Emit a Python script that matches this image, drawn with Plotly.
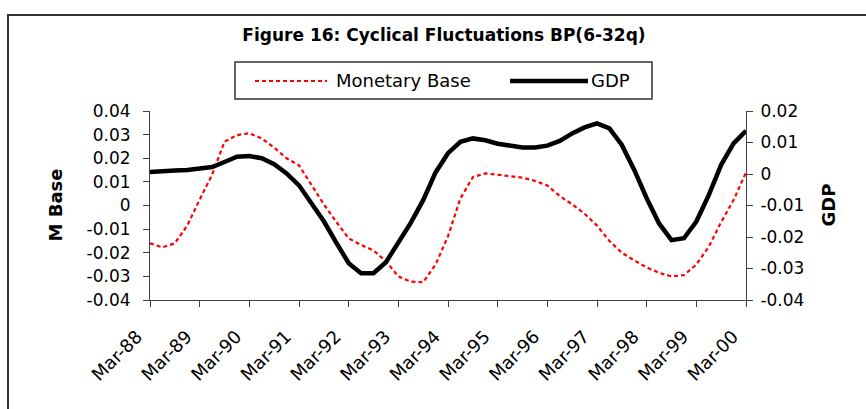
import plotly.graph_objects as go

# quarterly periods Mar-88 .. Mar-00
quarters = []
for yy in range(88, 101):
    for m in ["Mar", "Jun", "Sep", "Dec"]:
        quarters.append(f"{m}-{yy % 100:02d}")
quarters = quarters[:49]

monetary_base = [
    -0.0160, -0.0177, -0.0160, -0.0085, 0.0025, 0.0130, 0.0270, 0.0298,
    0.0306, 0.0284, 0.0245, 0.0200, 0.0170, 0.0085, 0.0005, -0.0069,
    -0.0139, -0.0167, -0.0190, -0.0236, -0.0300, -0.0322, -0.0325, -0.0250,
    -0.0130, 0.0030, 0.0120, 0.0136, 0.0130, 0.0126, 0.0118, 0.0104,
    0.0085, 0.0040, 0.0005, -0.0035, -0.0085, -0.0150, -0.0200, -0.0232,
    -0.0262, -0.0285, -0.0300, -0.0295, -0.0250, -0.0175, -0.0070, 0.0023,
    0.0140,
]

gdp = [
    0.0006, 0.0007, 0.0011, 0.0013, 0.0016, 0.0022, 0.0038, 0.0055,
    0.0057, 0.0050, 0.0031, 0.0002, -0.0036, -0.0090, -0.0150, -0.0218,
    -0.0283, -0.0315, -0.0315, -0.0280, -0.0220, -0.0155, -0.0083, 0.0005,
    0.0066, 0.0102, 0.0113, 0.0107, 0.0096, 0.0091, 0.0084, 0.0084,
    0.0090, 0.0105, 0.0129, 0.0148, 0.0161, 0.0145, 0.0092, 0.0013,
    -0.0077, -0.0157, -0.0210, -0.0204, -0.0151, -0.0067, 0.0029, 0.0097,
    0.0137,
]

x_ticks = quarters[::4]
left_ticks = [-0.04, -0.03, -0.02, -0.01, 0, 0.01, 0.02, 0.03, 0.04]
left_labels = ["-0.04", "-0.03", "-0.02", "-0.01", "0", "0.01", "0.02", "0.03", "0.04"]
right_ticks = [-0.04, -0.03, -0.02, -0.01, 0, 0.01, 0.02]
right_labels = ["-0.04", "-0.03", "-0.02", "-0.01", "0", "0.01", "0.02"]

FONT = "DejaVu Sans"
AX = "#404040"

fig = go.Figure()
fig.add_trace(go.Scatter(
    x=quarters, y=monetary_base, mode="lines", name="Monetary Base",
    line=dict(color="#ff0000", width=2.2, dash="4px,3px"), yaxis="y",
    showlegend=False,
))
fig.add_trace(go.Scatter(
    x=quarters, y=gdp, mode="lines", name="GDP",
    line=dict(color="black", width=4.5), yaxis="y2",
    showlegend=False,
))

# plot area: x 150..746 px, y 111..300 px
def px(x):
    return (x - 150) / 596

def py(y):
    return (300 - y) / 189

shapes = [
    # outer chart frame
    dict(type="rect", xref="paper", yref="paper",
         x0=px(8), x1=px(880), y0=py(420), y1=py(15),
         line=dict(color="#333333", width=2)),
    # legend box
    dict(type="rect", xref="paper", yref="paper",
         x0=px(235), x1=px(652), y0=py(99), y1=py(62),
         line=dict(color="#333333", width=1.5)),
    dict(type="line", xref="paper", yref="paper",
         x0=px(255), x1=px(327), y0=py(81), y1=py(81),
         line=dict(color="#ff0000", width=2.2, dash="4px,3px")),
    dict(type="line", xref="paper", yref="paper",
         x0=px(510), x1=px(588), y0=py(81), y1=py(81),
         line=dict(color="black", width=4.5)),
]

annotations = [
    dict(text="Monetary Base", xref="paper", yref="paper", x=px(334), y=py(81),
         xanchor="left", yanchor="middle", showarrow=False,
         font=dict(family=FONT, size=18, color="black")),
    dict(text="GDP", xref="paper", yref="paper", x=px(589), y=py(81),
         xanchor="left", yanchor="middle", showarrow=False,
         font=dict(family=FONT, size=18, color="black")),
    dict(text="<b>M Base</b>", xref="paper", yref="paper", x=px(55), y=0.5,
         xanchor="center", yanchor="middle", textangle=-90, showarrow=False,
         font=dict(family=FONT, size=18, color="black")),
    dict(text="<b>GDP</b>", xref="paper", yref="paper", x=px(828), y=0.5,
         xanchor="center", yanchor="middle", textangle=-90, showarrow=False,
         font=dict(family=FONT, size=18, color="black")),
]

fig.update_layout(
    width=866, height=409,
    margin=dict(l=150, r=120, t=111, b=109),
    paper_bgcolor="white", plot_bgcolor="white",
    title=dict(text="<b>Figure 16: Cyclical Fluctuations BP(6-32q)</b>",
               x=444 / 866, xanchor="center", xref="container",
               y=1 - 35 / 409, yanchor="middle", yref="container",
               font=dict(family=FONT, size=17, color="black")),
    font=dict(family=FONT, color="black"),
    xaxis=dict(
        type="category", range=[0, 48],
        tickvals=x_ticks, ticktext=x_ticks, tickangle=-45,
        ticks="outside", ticklen=6, tickcolor=AX,
        showline=True, linecolor=AX, linewidth=1,
        showgrid=False, zeroline=False,
        ticklabelstandoff=12, ticklabelshift=-13,
        tickfont=dict(family=FONT, size=18, color="black"),
    ),
    yaxis=dict(
        range=[-0.04, 0.04], tickvals=left_ticks, ticktext=left_labels,
        ticks="outside", ticklen=6, tickcolor=AX,
        showline=True, linecolor=AX, linewidth=1,
        showgrid=False, zeroline=False, ticklabelstandoff=9,
        tickfont=dict(family=FONT, size=17, color="black"),
    ),
    yaxis2=dict(
        range=[-0.04, 0.02], tickvals=right_ticks, ticktext=right_labels,
        overlaying="y", side="right",
        ticks="outside", ticklen=6, tickcolor=AX,
        showline=True, linecolor=AX, linewidth=1,
        showgrid=False, zeroline=False, ticklabelstandoff=4,
        tickfont=dict(family=FONT, size=17, color="black"),
    ),
    shapes=shapes,
    annotations=annotations,
)

fig.write_html("out.html", config={"displayModeBar": False},
               post_script="document.body.style.margin='0px';")
